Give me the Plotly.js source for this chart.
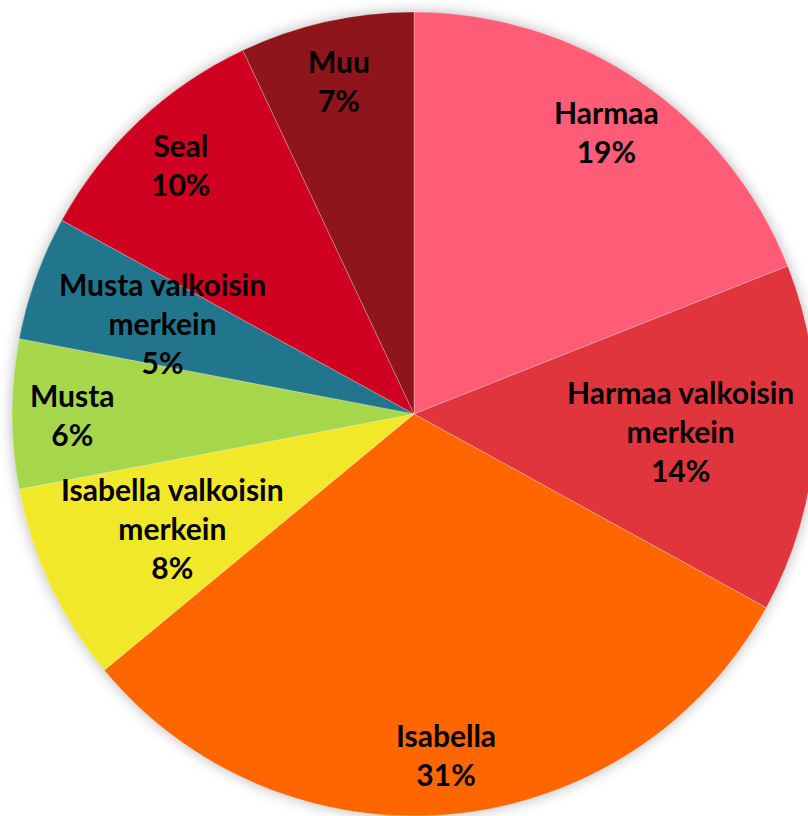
<!DOCTYPE html>
<html>
<head>
<meta charset="utf-8">
<script src="https://cdn.plot.ly/plotly-3.0.1.min.js"></script>
<style>
html, body { margin: 0; padding: 0; overflow: hidden; background: #ffffff; }
#chart { width: 830px; height: 830px; }
#chart .pielayer { filter: drop-shadow(0px 0px 7px rgba(0,0,0,0.28)); }
</style>
</head>
<body>
<div id="chart"></div>
<script>
// Data (percent shares, clockwise from 12 o'clock)
const categories = ["Harmaa", "Harmaa valkoisin merkein", "Isabella", "Isabella valkoisin merkein", "Musta", "Musta valkoisin merkein", "Seal", "Muu"];
const values = [19, 14, 31, 8, 6, 5, 10, 7];
const colors = ["#FF5C77", "#E1353E", "#FF6600", "#F2E82A", "#A6D74A", "#21768D", "#CF0020", "#8E151B"];

const total = values.reduce((a, b) => a + b, 0);

// Label positions derived from the slice angles
const annotations = [];
let cum = 0;
for (let i = 0; i < values.length; i++) {
  const mid = (cum + values[i] / 2) / total;
  cum += values[i];
  const theta = mid * 2 * Math.PI;
  const wrapped = categories[i].replace(" merkein", "<br>merkein");
  const multi = wrapped.indexOf("<br>") >= 0;
  const f = multi ? 0.665 : 0.85;
  const pct = Math.round(values[i] / total * 100) + "%";
  annotations.push({
    x: 0.5 + f * 0.5 * Math.sin(theta),
    y: 0.5 + f * 0.5 * Math.cos(theta),
    xref: "paper", yref: "paper",
    xanchor: "center", yanchor: "middle",
    text: wrapped + "<br>" + pct,
    showarrow: false,
    align: "center",
    font: { family: "Lato, 'DejaVu Sans', sans-serif", size: 30, color: "#000000", weight: "bold" }
  });
}

const trace = {
  type: "pie",
  labels: categories,
  values: values,
  sort: false,
  direction: "clockwise",
  rotation: 0,
  textinfo: "none",
  hoverinfo: "label+percent",
  marker: { colors: colors, line: { color: "rgba(255,255,255,0.45)", width: 0.6 } },
  showlegend: false
};

const layout = {
  width: 830,
  height: 830,
  margin: { l: 12, r: 14, t: 12, b: 14, pad: 0 },
  paper_bgcolor: "#ffffff",
  plot_bgcolor: "#ffffff",
  showlegend: false,
  annotations: annotations
};

Plotly.newPlot("chart", [trace], layout, { displayModeBar: false, staticPlot: true });
</script>
</body>
</html>
